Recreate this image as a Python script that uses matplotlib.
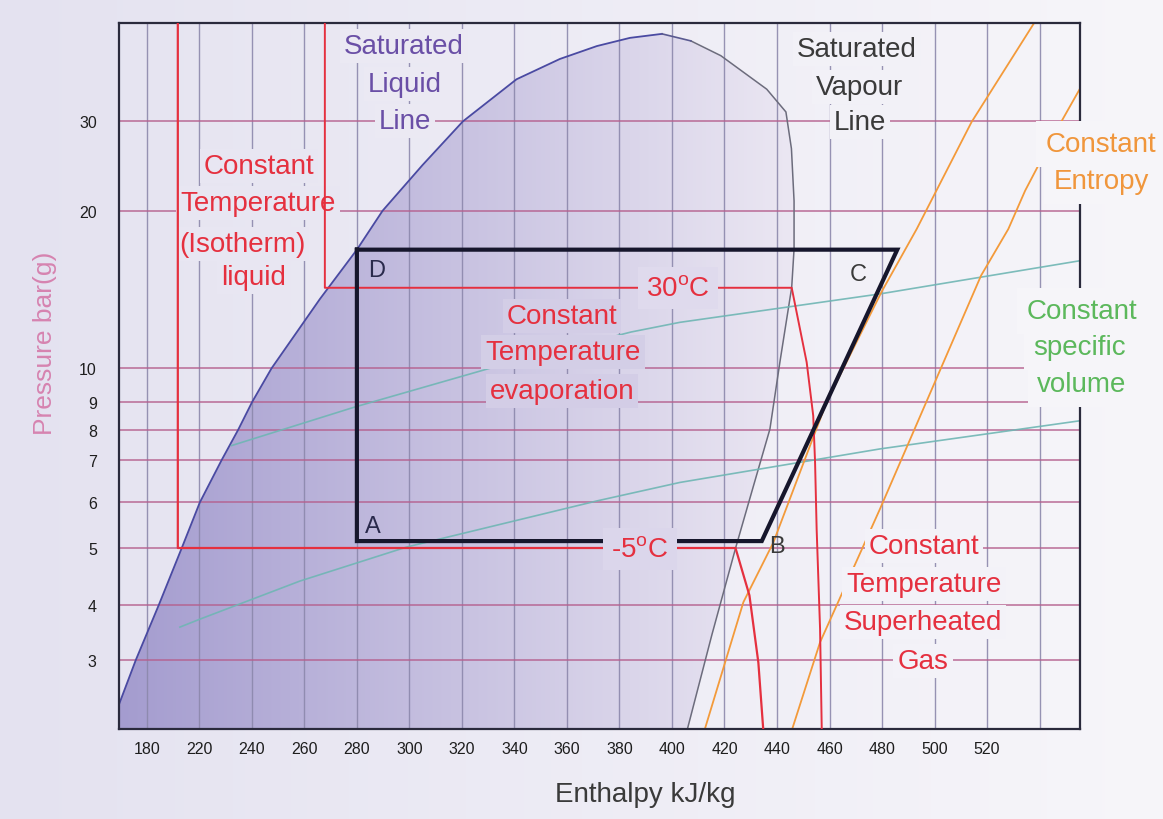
import numpy as np
import matplotlib
matplotlib.use('Agg')
import matplotlib.pyplot as plt
from matplotlib.patches import Polygon
from matplotlib.ticker import FixedLocator, NullLocator

plt.rcParams['font.family'] = ['Liberation Sans', 'DejaVu Sans']
plt.rcParams['mathtext.fontset'] = 'custom'
plt.rcParams['mathtext.rm'] = 'Liberation Sans'
plt.rcParams['mathtext.it'] = 'Liberation Sans:italic'

W, H = 1163, 820

# axis ticks
x_ticks = [200, 220, 240, 260, 280, 300, 320, 340, 360, 380, 400, 420, 440, 460, 480, 500, 520, 540]
x_labels = ['180', '220', '240', '260', '280', '300', '320', '340', '360', '380', '400',
            '420', '440', '460', '480', '500', '520', '']
y_ticks = [3, 4, 5, 6, 7, 8, 9, 10, 20, 30]

# saturation dome: enthalpy kJ/kg, pressure bar(g)
liq_h = [189.5, 195.8, 204.6, 213.3, 220.2, 228.5, 234.8, 240.1, 247.5, 265.9, 280.0, 289.8,
         305.0, 320.4, 340.8, 357.3, 371.4, 384.0, 396.2]
liq_p = [2.39, 3.0, 4.0, 5.0, 6.0, 7.0, 8.0, 9.0, 10.0, 13.56, 16.85, 20.0,
         24.6, 30.0, 36.3, 39.8, 42.2, 43.8, 44.6]
vap_h = [407.2, 418.6, 436.1, 443.4, 445.5, 446.5, 446.5, 445.6, 441.1, 437.3, 430.9, 424.4, 415.2, 405.0]
vap_p = [43.2, 40.4, 34.7, 31.3, 26.5, 20.9, 16.9, 14.28, 10.27, 8.02, 6.34, 5.03, 3.42, 2.0]

# refrigeration cycle D -> C -> B -> A -> D
cyc_h = [280.0, 485.8, 434.2, 280.0, 280.0]
cyc_p = [16.85, 16.85, 5.14, 5.14, 16.85]

# isotherms 30 C and -5 C
t30_h = [267.8, 267.8, 445.6, 451.3, 453.8, 454.5, 455.1, 456.4, 457.1]
t30_p = [50.0, 14.25, 14.25, 10.27, 8.49, 6.94, 5.39, 3.53, 2.0]
tm5_h = [211.8, 211.8, 424.2, 429.5, 432.9, 435.0]
tm5_p = [50.0, 5.0, 5.0, 4.15, 2.96, 2.0]

# constant entropy lines
s1_h = [411.5, 427.2, 438.6, 458.9, 479.8, 493.2, 514.1, 538.1]
s1_p = [2.0, 4.04, 5.11, 9.0, 13.99, 18.45, 29.9, 47.0]
s2_h = [444.7, 456.4, 479.2, 517.7, 528.1, 534.5, 548.2, 554.3, 559.2]
s2_p = [2.0, 3.29, 5.84, 15.03, 18.45, 21.9, 29.9, 34.0, 37.7]

# constant specific volume lines
v1_h = [232.3, 279.2, 331.8, 384.4, 403.0, 479.2, 555.4]
v1_p = [7.46, 8.81, 10.04, 11.73, 12.24, 13.87, 16.05]
v2_h = [212.6, 220.2, 258.3, 299.0, 371.4, 403.0, 479.2, 555.4]
v2_p = [3.56, 3.71, 4.39, 5.02, 6.03, 6.45, 7.35, 8.31]

# the chart's pressure axis is hand spaced, so map it piecewise
anc_lp = np.log10(y_ticks)
anc_y = np.array([69, 124.3, 181, 226.7, 269, 299.3, 327, 360.7, 518.3, 607.7])
lo_s = (anc_y[1] - anc_y[0]) / (anc_lp[1] - anc_lp[0])
hi_s = (anc_y[-1] - anc_y[-2]) / (anc_lp[-1] - anc_lp[-2])


def p2y(p):
    lp = np.log10(np.maximum(np.asarray(p, float), 1e-3))
    y = np.interp(lp, anc_lp, anc_y)
    y = np.where(lp < anc_lp[0], anc_y[0] + (lp - anc_lp[0]) * lo_s, y)
    return np.where(lp > anc_lp[-1], anc_y[-1] + (lp - anc_lp[-1]) * hi_s, y)


def y2p(y):
    y = np.asarray(y, float)
    lp = np.interp(y, anc_y, anc_lp)
    lp = np.where(y < anc_y[0], anc_lp[0] + (y - anc_y[0]) / lo_s, lp)
    lp = np.where(y > anc_y[-1], anc_lp[-1] + (y - anc_y[-1]) / hi_s, lp)
    return 10 ** lp


bg_l, bg_r = np.array([228, 226, 240]), np.array([247, 246, 250])
dome_l, dome_r = np.array([164, 156, 207]), np.array([236, 232, 243])


def bg_at(x):
    return tuple((bg_l + (bg_r - bg_l) * x / W) / 255)


def dome_at(x):
    u = np.clip((x - 119) / (800 - 119), 0, 1)
    return tuple((dome_l + (dome_r - dome_l) * u) / 255)


fig = plt.figure(figsize=(W / 100, H / 100), dpi=100)
bax = fig.add_axes([0, 0, 1, 1], zorder=-1)
ax = fig.add_axes([119 / W, 90 / H, 961 / W, 706 / H], facecolor='none')

ax.set_yscale('function', functions=(p2y, y2p))
h_lo, h_hi = 189.4, 555.4
p_lo, p_hi = float(y2p(0)), float(y2p(706))
ax.set_xlim(h_lo, h_hi)
ax.set_ylim(p_lo, p_hi)

# background gradients
cols = np.arange(W)
bg = np.array([bg_at(c) for c in cols])
bax.imshow(bg[None], extent=[0, 1, 0, 1], aspect='auto')
dome = np.array([dome_at(c) for c in cols])
im = bax.imshow(dome[None], extent=[0, 1, 0, 1], aspect='auto', zorder=1)
# dome outline closed along the bottom of the axes
dome_h = liq_h + vap_h[:-1] + [vap_h[-2] - (vap_h[-2] - vap_h[-1]) * 0.9, h_lo, h_lo]
dome_p = liq_p + vap_p[:-1] + [p_lo, p_lo, liq_p[0]]
im.set_clip_path(Polygon(np.column_stack([dome_h, dome_p]), closed=True, transform=ax.transData))
bax.set_xlim(0, 1)
bax.set_ylim(0, 1)
bax.axis('off')

# grid and ticks
ax.xaxis.set_major_locator(FixedLocator(x_ticks))
ax.set_xticklabels(x_labels)
ax.yaxis.set_major_locator(FixedLocator(y_ticks))
ax.yaxis.set_minor_locator(NullLocator())
ax.set_yticklabels([str(t) for t in y_ticks])
ax.set_axisbelow(True)
ax.xaxis.grid(True, color='#8c88ac', lw=1.0, alpha=0.9)
ax.yaxis.grid(True, color='#b5608e', lw=1.2, alpha=0.85)
ax.tick_params(axis='x', length=0, pad=9, labelsize=11.5, labelcolor='#1e1e1e')
ax.tick_params(axis='y', length=0, pad=16, labelsize=11.5, labelcolor='#1e1e1e')
for s in ax.spines.values():
    s.set_color('#2a2a3c')
    s.set_linewidth(1.6)

# curves
ax.plot(liq_h, liq_p, color='#4a4aa2', lw=1.3, zorder=2)
ax.plot(vap_h, vap_p, color='#6c6c7c', lw=1.1, zorder=2)
ax.plot([liq_h[-1], vap_h[0]], [liq_p[-1], vap_p[0]], color='#5a5a90', lw=1.2, zorder=2)
ax.plot(v1_h, v1_p, color='#6fb6b4', lw=1.2, alpha=0.9, zorder=2)
ax.plot(v2_h, v2_p, color='#6fb6b4', lw=1.2, alpha=0.9, zorder=2)
ax.plot(s1_h, s1_p, color='#f39a3a', lw=1.3, zorder=2.1)
ax.plot(s2_h, s2_p, color='#f39a3a', lw=1.3, zorder=2.1)
ax.plot(t30_h, t30_p, color='#e5303f', lw=1.4, zorder=2.9)
ax.plot(tm5_h, tm5_p, color='#e5303f', lw=1.6, zorder=2.9)
ax.plot(cyc_h, cyc_p, color='#16162c', lw=3.0, zorder=2.95, solid_joinstyle='miter')


def put(lines, xs, ys, color, size=20, fc=None, z=3.0, pad=0.15):
    for s, x, y in zip(lines, xs, ys):
        kw = {}
        if fc is not None:
            kw['bbox'] = dict(boxstyle='square,pad=%s' % pad, fc=fc(x), ec='none')
        ax.text(x / W, 1 - y / H, s, transform=fig.transFigure, ha='center', va='center',
                fontsize=size, color=color, zorder=z, clip_on=False, **kw)


put(['Saturated', 'Liquid', 'Line'], [404, 405, 405], [47, 85, 122], '#6a4fa6', fc=bg_at)
put(['Saturated', 'Vapour', 'Line'], [857, 860, 860], [50, 88, 123], '#3a3a3a', fc=bg_at)
put(['Constant', 'Entropy'], [1101, 1101], [145, 182], '#f0963c', fc=bg_at, pad=0.35)
put(['Constant', 'specific', 'volume'], [1082, 1080, 1082], [312, 348, 385], '#5cb85c', fc=bg_at, pad=0.35)
put(['Constant', 'Temperature', '(Isotherm)', 'liquid'], [259, 258, 242, 254],
    [167, 204, 245, 278], '#e5303f', fc=bg_at, z=2.8)
put(['Constant', 'Temperature', 'evaporation'], [562, 563, 562], [317, 353, 392], '#e5303f', fc=dome_at)
put(['Constant', 'Temperature', 'Superheated', 'Gas'], [924, 924, 923, 923],
    [547, 585, 623, 662], '#e5303f', fc=bg_at)
put([r'30$^{\mathrm{o}}$C'], [678], [289], '#e5303f', fc=dome_at, pad=0.3)
put([r'-5$^{\mathrm{o}}$C'], [640], [550], '#e5303f', fc=dome_at, pad=0.3)

put(['D'], [377], [271], '#2a2a4c', size=17, z=3.2)
put(['C'], [858], [275], '#3a3a3a', size=17, z=3.2)
put(['A'], [373], [527], '#2a2a4c', size=17, z=3.2)
put(['B'], [777], [547], '#3a3a3a', size=17, z=3.2)

ax.text(45 / W, 1 - 343 / H, 'Pressure bar(g)', transform=fig.transFigure, rotation=90,
        ha='center', va='center', fontsize=19, color='#d683b0')
ax.text(645 / W, 1 - 795 / H, 'Enthalpy kJ/kg', transform=fig.transFigure,
        ha='center', va='center', fontsize=20, color='#3a3a3a')

fig.savefig('out.png', dpi=100)
